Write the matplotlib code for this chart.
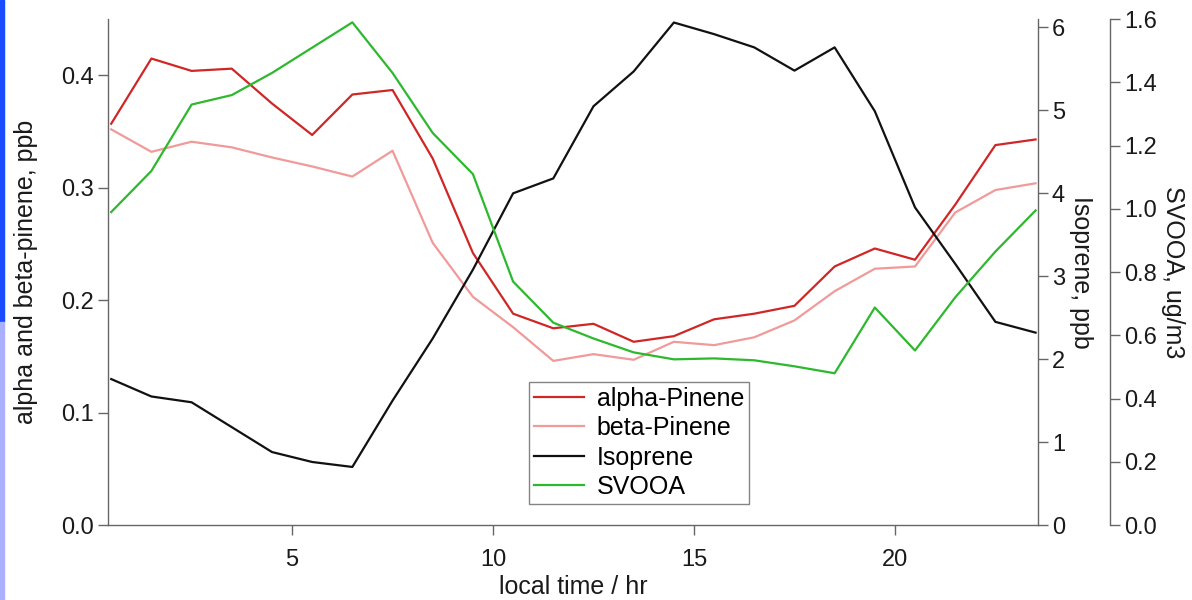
import matplotlib.pyplot as plt
from matplotlib.patches import Rectangle

plt.rcParams['font.family'] = ['Liberation Sans', 'DejaVu Sans']

# hour of day (bin centres)
hours = [0.5, 1.5, 2.5, 3.5, 4.5, 5.5, 6.5, 7.5, 8.5, 9.5, 10.5, 11.5,
         12.5, 13.5, 14.5, 15.5, 16.5, 17.5, 18.5, 19.5, 20.5, 21.5, 22.5, 23.5]

alpha_pinene = [0.357, 0.415, 0.404, 0.406, 0.375, 0.347, 0.383, 0.387,
                0.326, 0.242, 0.188, 0.175, 0.179, 0.163, 0.168, 0.183,
                0.188, 0.195, 0.230, 0.246, 0.236, 0.285, 0.338, 0.343]

beta_pinene = [0.352, 0.332, 0.341, 0.336, 0.327, 0.319, 0.310, 0.333,
               0.251, 0.203, 0.176, 0.146, 0.152, 0.147, 0.163, 0.160,
               0.167, 0.182, 0.208, 0.228, 0.230, 0.278, 0.298, 0.304]

isoprene = [1.76, 1.55, 1.48, 1.18, 0.88, 0.76, 0.70, 1.50,
            2.25, 3.08, 4.00, 4.18, 5.05, 5.47, 6.06, 5.92,
            5.76, 5.48, 5.76, 4.99, 3.83, 3.15, 2.45, 2.32]

svooa = [0.99, 1.12, 1.33, 1.36, 1.43, 1.51, 1.59, 1.43,
         1.24, 1.11, 0.77, 0.64, 0.59, 0.546, 0.524, 0.527,
         0.521, 0.502, 0.48, 0.688, 0.552, 0.72, 0.865, 0.995]

spine_col = '#666666'
text_col = '#1a1a1a'

fig = plt.figure(figsize=(11.92, 6), dpi=100)
ax = fig.add_axes([0.0906, 0.125, 0.7802, 0.843])
ax2 = ax.twinx()
ax3 = ax.twinx()
# 72 px outward at 100 dpi
ax3.spines['right'].set_position(('outward', 72 * 0.72))

l1, = ax.plot(hours, alpha_pinene, color='#d02626', lw=1.6, label='alpha-Pinene')
l2, = ax.plot(hours, beta_pinene, color='#f09a9a', lw=1.6, label='beta-Pinene')
l3, = ax2.plot(hours, isoprene, color='#111111', lw=1.6, label='Isoprene')
l4, = ax3.plot(hours, svooa, color='#2db82d', lw=1.6, label='SVOOA')

ax.set_xlim(0.42, 23.56)
ax.set_ylim(0, 0.45)
ax2.set_ylim(0, 6.1)
ax3.set_ylim(0, 1.6)

ax.set_xticks([5, 10, 15, 20])
ax.set_yticks([0.0, 0.1, 0.2, 0.3, 0.4])
ax.set_yticklabels(['0.0', '0.1', '0.2', '0.3', '0.4'])
ax2.set_yticks([0, 1, 2, 3, 4, 5, 6])
ax3.set_yticks([0.0, 0.2, 0.4, 0.6, 0.8, 1.0, 1.2, 1.4, 1.6])
ax3.set_yticklabels(['0.0', '0.2', '0.4', '0.6', '0.8', '1.0', '1.2', '1.4', '1.6'])

for a in (ax, ax2, ax3):
    for s in a.spines.values():
        s.set_visible(False)
    a.tick_params(colors=spine_col, labelcolor=text_col, labelsize=17,
                  length=7, width=1, direction='out', pad=3)

ax.spines['left'].set_visible(True)
ax.spines['bottom'].set_visible(True)
ax2.spines['right'].set_visible(True)
ax3.spines['right'].set_visible(True)
for s in (ax.spines['left'], ax.spines['bottom'], ax2.spines['right'], ax3.spines['right']):
    s.set_color(spine_col)
    s.set_linewidth(1)

ax.tick_params(axis='x', pad=10)

ax.set_xlabel('local time / hr', fontsize=18, color=text_col, labelpad=3)
ax.set_ylabel('alpha and beta-pinene, ppb', fontsize=18, color=text_col, labelpad=17)
ax2.set_ylabel('Isoprene, ppb', fontsize=18, color=text_col, rotation=270, labelpad=20)
ax3.set_ylabel('SVOOA, ug/m3', fontsize=18, color=text_col, rotation=270, labelpad=20)

leg = ax.legend(handles=[l1, l2, l3, l4], loc='lower left',
                bbox_to_anchor=(0.453, 0.0415), fontsize=18, frameon=True,
                fancybox=False, edgecolor=spine_col, handlelength=2.0,
                borderpad=0.2, borderaxespad=0, labelspacing=0.22,
                handletextpad=0.5)
leg.get_frame().set_linewidth(1)

# blue edge strip on the left of the original image
fig.patches.append(Rectangle((0, 0.463), 0.003, 0.537, transform=fig.transFigure,
                             color='#1a4cff', zorder=0))
fig.patches.append(Rectangle((0, 0), 0.003, 0.463, transform=fig.transFigure,
                             color='#aab0ff', zorder=0))

fig.savefig('out.png', dpi=100)
